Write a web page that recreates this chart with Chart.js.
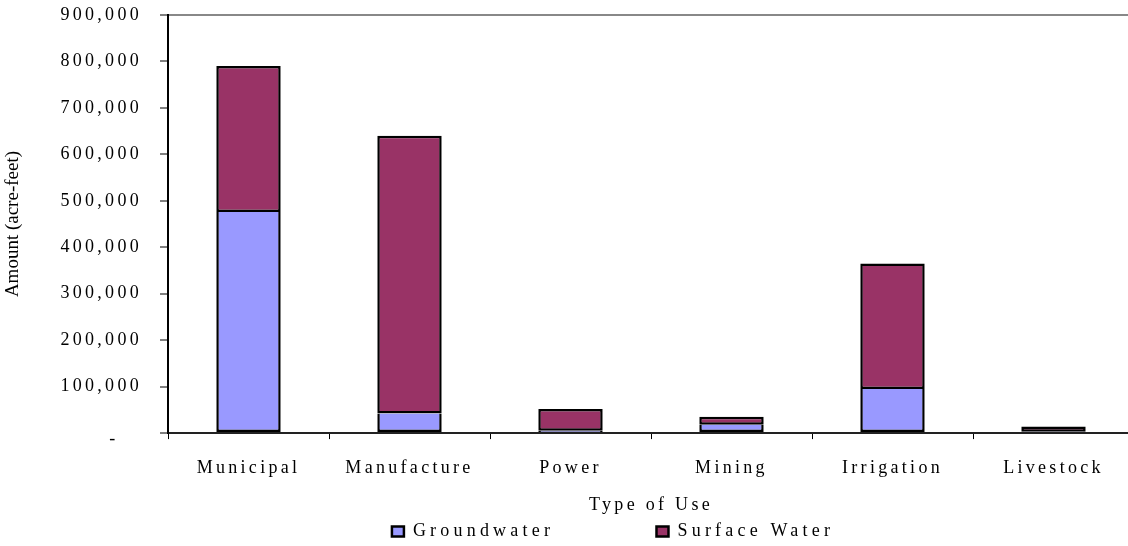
<!DOCTYPE html>
<html>
<head>
<meta charset="utf-8">
<title>Water Use by Type</title>
<script src="https://cdn.jsdelivr.net/npm/chart.js@4.4.1/dist/chart.umd.min.js"></script>
<style>
  html, body { margin: 0; padding: 0; background: #fff; overflow: hidden; }
  canvas { display: block; }
</style>
</head>
<body>
<canvas id="chart" width="1134" height="546"></canvas>
<script>
// Water use by type, in acre-feet
const categories = ['Municipal', 'Manufacture', 'Power', 'Mining', 'Irrigation', 'Livestock'];
const groundwater = [476000, 42000, 5000, 18000, 95000, 3000];
const surfaceWater = [314000, 598000, 47000, 17000, 270000, 11000];
const yTickValues = [0, 100000, 200000, 300000, 400000, 500000, 600000, 700000, 800000, 900000];
const seriesNames = ['Groundwater', 'Surface Water'];

// Letter spacing keyed by a token placed at the end of a font's family list
const TRACKING = { track33: '3.3px', track42: '4.2px' };
function trackingFor(font) {
  for (const key in TRACKING) {
    if (font.indexOf(key) !== -1) return TRACKING[key];
  }
  return '0px';
}

const canvas = document.getElementById('chart');
const ctx = canvas.getContext('2d');
const nativeFillText = ctx.fillText;
const nativeMeasureText = ctx.measureText;
ctx.fillText = function (text, x, y, maxWidth) {
  this.letterSpacing = trackingFor(this.font);
  if (maxWidth === undefined) nativeFillText.call(this, text, x, y);
  else nativeFillText.call(this, text, x, y, maxWidth);
  this.letterSpacing = '0px';
};
ctx.measureText = function (text) {
  this.letterSpacing = trackingFor(this.font);
  const m = nativeMeasureText.call(this, text);
  this.letterSpacing = '0px';
  return m;
};

const SERIF = "'Liberation Serif', 'Times New Roman', serif";
const spaced = { family: SERIF + ', track33', size: 18 };

// Moves the legend row sideways after layout
const legendShift = {
  id: 'legendShift',
  afterLayout(chart) {
    const dx = chart.options.plugins.legendShift.dx;
    chart.legend.left += dx;
    chart.legend.right += dx;
  }
};

new Chart(ctx, {
  type: 'bar',
  data: {
    labels: categories,
    datasets: [
      {
        label: seriesNames[0],
        data: groundwater,
        backgroundColor: '#9999FF',
        borderColor: '#000000',
        borderWidth: 2.5,
        borderSkipped: 'end'
      },
      {
        label: seriesNames[1],
        data: surfaceWater,
        backgroundColor: '#993366',
        borderColor: '#000000',
        borderWidth: 2.5,
        borderSkipped: false
      }
    ]
  },
  options: {
    responsive: false,
    animation: false,
    devicePixelRatio: 1,
    layout: { padding: { top: 15, left: 0, right: 0, bottom: -4.5 } },
    datasets: {
      bar: { barPercentage: 0.4, categoryPercentage: 1.0 }
    },
    scales: {
      x: {
        stacked: true,
        offset: true,
        grid: {
          display: true,
          offset: true,
          drawOnChartArea: false,
          drawTicks: true,
          tickLength: 6,
          tickColor: '#000000',
          tickWidth: 1
        },
        border: { display: true, color: '#222222', width: 2 },
        ticks: {
          color: '#000000',
          font: spaced,
          padding: 18,
          maxRotation: 0,
          autoSkip: false
        },
        title: {
          display: true,
          text: 'Type of Use',
          color: '#000000',
          font: spaced,
          padding: { top: 5.4, bottom: 5.4 }
        },
        afterFit(scale) { scale.height = 88.4; }
      },
      y: {
        stacked: true,
        min: 0,
        max: 900000,
        afterBuildTicks(scale) {
          scale.ticks = yTickValues.map(v => ({ value: v }));
        },
        grid: {
          display: true,
          drawOnChartArea: true,
          drawTicks: true,
          tickLength: 8,
          tickColor: '#000000',
          tickWidth: 1,
          lineWidth: 2,
          color: (c) => (c.tick && c.tick.value === 900000 ? '#888888' : 'rgba(0,0,0,0)')
        },
        border: { display: true, color: '#000000', width: 2 },
        ticks: {
          color: '#000000',
          padding: 18,
          font: (c) => (c.tick && c.tick.value === 0
            ? { family: SERIF + ', track33', size: 18, lineHeight: 0.65 }
            : { family: SERIF + ', track33', size: 18 }),
          callback: (value) => (value === 0 ? ['', '-   '] : value.toLocaleString('en-US'))
        },
        title: {
          display: true,
          text: 'Amount (acre-feet)',
          color: '#000000',
          font: { family: SERIF, size: 19 },
          padding: { top: 2, bottom: 2 }
        },
        afterFit(scale) {
          scale.width = 168;
          scale.paddingTop = 0;
          scale.paddingBottom = 0;
        }
      }
    },
    plugins: {
      legendShift: { dx: 46 },
      tooltip: { enabled: false },
      legend: {
        display: true,
        position: 'bottom',
        labels: {
          color: '#000000',
          font: { family: SERIF + ', track42', size: 18 },
          boxWidth: 12,
          boxHeight: 10,
          padding: 1,
          generateLabels(chart) {
            const items = Chart.defaults.plugins.legend.labels.generateLabels(chart);
            // trailing blank space keeps the two entries apart
            items[0].text = items[0].text + '           \u200A';
            return items;
          }
        }
      }
    }
  },
  plugins: [legendShift]
});
</script>
</body>
</html>
